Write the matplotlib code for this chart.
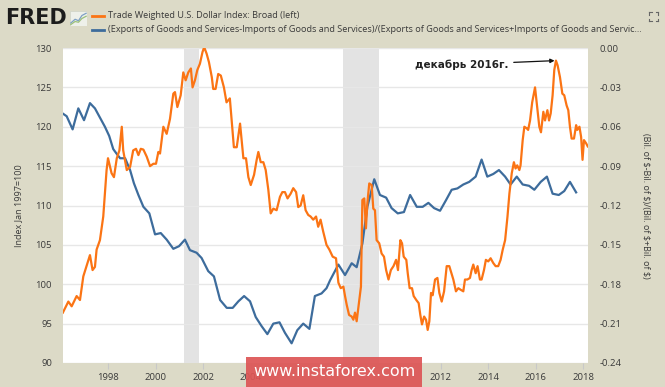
import matplotlib
matplotlib.use("Agg")
import matplotlib.pyplot as plt
from matplotlib.patches import Rectangle
from matplotlib.lines import Line2D

# ---------------- data ----------------
usd_t = [1996.1, 1996.33, 1996.47, 1996.68, 1996.82, 1996.96, 1997.24, 1997.35, 1997.45, 1997.52,
         1997.66, 1997.8, 1997.94, 1998.0, 1998.15, 1998.25, 1998.37, 1998.48, 1998.58, 1998.64,
         1998.79, 1998.93, 1999.06, 1999.18, 1999.28, 1999.38, 1999.49, 1999.63, 1999.77, 1999.91,
         2000.02, 2000.12, 2000.19, 2000.33, 2000.47, 2000.61, 2000.75, 2000.82, 2000.92, 2001.06,
         2001.17, 2001.27, 2001.38, 2001.49, 2001.56, 2001.66, 2001.76, 2001.87, 2001.98, 2002.05,
         2002.15, 2002.25, 2002.37, 2002.43, 2002.53, 2002.64, 2002.75, 2002.88, 2002.99, 2003.13,
         2003.3, 2003.42, 2003.56, 2003.7, 2003.81, 2003.91, 2004.01, 2004.15, 2004.26, 2004.33,
         2004.43, 2004.54, 2004.64, 2004.75, 2004.85, 2004.96, 2005.1, 2005.24, 2005.34, 2005.45,
         2005.56, 2005.69, 2005.8, 2005.92, 2006.01, 2006.11, 2006.22, 2006.32, 2006.43, 2006.53,
         2006.64, 2006.76, 2006.85, 2006.95, 2007.06, 2007.2, 2007.32, 2007.46, 2007.6, 2007.7,
         2007.8, 2007.91, 2007.98, 2008.05, 2008.15, 2008.26, 2008.33, 2008.4, 2008.47, 2008.58,
         2008.65, 2008.71, 2008.79, 2008.86, 2008.92, 2009.0, 2009.1, 2009.17, 2009.24, 2009.31,
         2009.42, 2009.52, 2009.62, 2009.71, 2009.81, 2009.91, 2010.02, 2010.13, 2010.21, 2010.31,
         2010.38, 2010.45, 2010.56, 2010.62, 2010.7, 2010.8, 2010.87, 2010.98, 2011.08, 2011.15,
         2011.22, 2011.31, 2011.39, 2011.46, 2011.53, 2011.6, 2011.67, 2011.77, 2011.87, 2011.95,
         2012.05, 2012.15, 2012.26, 2012.37, 2012.54, 2012.65, 2012.75, 2012.85, 2012.96, 2013.03,
         2013.13, 2013.24, 2013.31, 2013.38, 2013.48, 2013.56, 2013.66, 2013.73, 2013.83, 2013.91,
         2014.01, 2014.11, 2014.22, 2014.32, 2014.43, 2014.53, 2014.62, 2014.72, 2014.82, 2014.9,
         2015.0, 2015.09, 2015.16, 2015.23, 2015.32, 2015.37, 2015.46, 2015.53, 2015.63, 2015.69,
         2015.77, 2015.86, 2015.98, 2016.07, 2016.16, 2016.23, 2016.33, 2016.4, 2016.5, 2016.57,
         2016.64, 2016.72, 2016.79, 2016.86, 2016.93, 2017.03, 2017.13, 2017.21, 2017.31, 2017.38,
         2017.45, 2017.52, 2017.62, 2017.71, 2017.76, 2017.85, 2017.92, 2017.98, 2018.04, 2018.13,
         2018.2]
usd_v = [96.4, 97.8, 97.2, 98.5, 98.0, 101.0, 103.7, 101.8, 102.2, 104.4,
         105.6, 108.6, 114.5, 116.0, 114.1, 113.6, 116.0, 117.0, 120.0, 117.0,
         114.5, 114.9, 117.0, 117.2, 116.4, 117.2, 117.1, 116.2, 115.0, 115.3,
         115.3, 116.8, 116.6, 120.0, 119.1, 121.0, 124.2, 124.4, 122.5, 124.0,
         126.9, 125.9, 126.9, 127.4, 125.0, 125.9, 127.2, 128.0, 129.5, 130.1,
         129.3, 128.2, 126.3, 124.8, 124.8, 126.7, 126.5, 125.0, 123.1, 123.6,
         117.4, 117.4, 120.4, 116.0, 116.0, 113.6, 112.6, 113.9, 115.8, 116.8,
         115.5, 115.5, 114.5, 112.0, 109.0, 109.6, 109.4, 111.1, 111.7, 111.7,
         110.9, 111.5, 112.2, 111.7, 109.8, 110.0, 111.3, 109.4, 108.8, 108.6,
         108.2, 108.6, 107.3, 108.2, 106.7, 105.0, 104.4, 103.5, 103.3, 100.2,
         99.5, 99.7, 98.5, 97.4, 96.1, 95.9, 95.5, 96.4, 95.3, 98.0,
         99.7, 110.7, 110.9, 107.1, 110.3, 112.8, 112.6, 109.6, 109.4, 105.6,
         105.2, 103.9, 103.5, 101.8, 100.6, 101.8, 102.3, 103.1, 101.8, 105.6,
         105.2, 103.5, 103.1, 101.4, 99.5, 99.5, 98.5, 98.0, 97.6, 96.1,
         94.9, 95.9, 95.5, 94.2, 95.3, 98.9, 98.6, 100.6, 100.8, 98.9,
         97.8, 99.1, 102.3, 102.3, 100.6, 99.1, 99.5, 99.3, 99.1, 100.6,
         100.6, 100.8, 101.8, 102.5, 101.4, 102.3, 100.6, 100.6, 101.8, 103.1,
         102.9, 103.3, 102.7, 102.3, 102.3, 103.1, 104.4, 105.6, 108.6, 111.5,
         114.1, 115.5, 114.7, 115.1, 114.5, 115.1, 118.3, 120.0, 119.8, 119.6,
         120.8, 123.1, 125.0, 122.5, 120.0, 119.3, 121.9, 120.8, 122.1, 120.8,
         121.7, 124.0, 127.2, 128.4, 127.8, 126.3, 124.2, 124.0, 122.7, 122.1,
         120.0, 118.5, 118.5, 120.2, 119.6, 120.0, 118.7, 115.8, 118.3, 117.9,
         117.5]

ratio_t = [1996.1, 1996.26, 1996.51, 1996.75, 1996.99, 1997.24, 1997.45, 1997.66, 1997.87, 1998.05,
           1998.22, 1998.34, 1998.51, 1998.72, 1998.93, 1999.09, 1999.28, 1999.49, 1999.74, 1999.98,
           2000.22, 2000.47, 2000.75, 2000.99, 2001.24, 2001.45, 2001.73, 2001.94, 2002.22, 2002.46,
           2002.72, 2003.0, 2003.25, 2003.49, 2003.73, 2003.98, 2004.22, 2004.47, 2004.71, 2004.96,
           2005.22, 2005.45, 2005.73, 2005.97, 2006.22, 2006.48, 2006.71, 2006.99, 2007.2, 2007.35,
           2007.7, 2007.98, 2008.26, 2008.47, 2008.71, 2008.92, 2009.21, 2009.45, 2009.71, 2009.94,
           2010.2, 2010.46, 2010.72, 2011.0, 2011.25, 2011.49, 2011.73, 2011.98, 2012.23, 2012.47,
           2012.71, 2012.96, 2013.21, 2013.48, 2013.73, 2013.97, 2014.22, 2014.46, 2014.72, 2014.95,
           2015.21, 2015.46, 2015.73, 2015.95, 2016.22, 2016.48, 2016.72, 2016.98, 2017.21, 2017.45,
           2017.71]
ratio_v = [-0.050, -0.052, -0.062, -0.046, -0.055, -0.042, -0.046, -0.053, -0.060, -0.067,
           -0.077, -0.080, -0.084, -0.084, -0.093, -0.103, -0.112, -0.121, -0.126, -0.142,
           -0.141, -0.146, -0.153, -0.151, -0.146, -0.154, -0.156, -0.160, -0.170, -0.174,
           -0.192, -0.198, -0.198, -0.193, -0.189, -0.193, -0.205, -0.212, -0.218, -0.210,
           -0.209, -0.217, -0.225, -0.215, -0.210, -0.214, -0.189, -0.187, -0.183, -0.177,
           -0.165, -0.173, -0.164, -0.167, -0.149, -0.121, -0.100, -0.112, -0.114, -0.122,
           -0.126, -0.125, -0.112, -0.121, -0.121, -0.118, -0.122, -0.124, -0.116, -0.108,
           -0.107, -0.104, -0.102, -0.098, -0.085, -0.098, -0.096, -0.093, -0.098, -0.104,
           -0.098, -0.104, -0.105, -0.108, -0.102, -0.098, -0.111, -0.112, -0.109, -0.102,
           -0.110]

recessions = [(2001.2, 2001.83), (2007.9, 2009.4)]
x_ticks = [1998, 2000, 2002, 2004, 2006, 2008, 2010, 2012, 2014, 2016, 2018]
# labels of 2006-2010 sit fully under the watermark box in the reference
x_labels = ["1998", "2000", "2002", "2004", "", "", "", "2012", "2014", "2016", "2018"]
left_ticks = [90, 95, 100, 105, 110, 115, 120, 125, 130]
right_ticks = [-0.24, -0.21, -0.18, -0.15, -0.12, -0.09, -0.06, -0.03, 0.00]

series1_name = "Trade Weighted U.S. Dollar Index: Broad (left)"
series2_name = ("(Exports of Goods and Services-Imports of Goods and Services)/"
                "(Exports of Goods and Services+Imports of Goods and Servic...")
left_label = "Index Jan 1997=100"
right_label = "(Bil. of \\$-Bil. of \\$)/(Bil. of \\$+Bil. of \\$)"
annot_text = "декабрь 2016г."
annot_point = (2016.86, 128.4)
watermark = "www.instaforex.com"

# ---------------- style ----------------
BG = "#dcdac7"
ORANGE = "#fb7414"
BLUE = "#3d6c9c"
TXT = "#3a3a3a"
W, H = 665, 387

plt.rcParams['font.family'] = ['Open Sans', 'DejaVu Sans']

fig = plt.figure(figsize=(W / 100, H / 100), dpi=100)
fig.patch.set_facecolor(BG)

L, R, T, B = 63, 588, 48, 363
ax = fig.add_axes([L / W, 1 - B / H, (R - L) / W, (B - T) / H])
ax.set_xlim(1996.105, 2018.21)
ax.set_ylim(90, 130)
for s in ax.spines.values():
    s.set_visible(False)

ax2 = ax.twinx()
for s in ax2.spines.values():
    s.set_visible(False)
ax2.set_ylim(-0.24, 0.0)

# stacking: ax2 (white background, shading, grid, blue line) below ax (orange)
ax.set_zorder(2)
ax2.set_zorder(1)
ax.patch.set_visible(False)
ax2.patch.set_visible(True)
ax2.patch.set_facecolor("white")

for a, b in recessions:
    ax2.axvspan(a, b, color="#e3e3e3", lw=0, zorder=0.5)

ax.set_yticks(left_ticks)
ax.set_yticklabels([str(v) for v in left_ticks])
ax.tick_params(axis="y", length=0, pad=8, labelsize=6.8, labelcolor=TXT)
ax.set_xticks(x_ticks)
ax.set_xticklabels(x_labels)
ax.tick_params(axis="x", length=4, width=0.8, color="#c8c8c8", pad=3,
               labelsize=6.8, labelcolor=TXT)
ax.set_ylabel(left_label, fontsize=6.5, color=TXT, labelpad=9)

ax2.set_yticks(right_ticks)
ax2.set_yticklabels([f"{v:.2f}" for v in right_ticks])
ax2.yaxis.grid(True, color="#e7e7e7", lw=1.0)
ax2.set_axisbelow(True)
ax2.tick_params(axis="y", length=0, pad=8.5, labelsize=6.8, labelcolor=TXT)
ax2.set_ylabel(right_label, fontsize=6.5, color=TXT, rotation=270, labelpad=20)

ax2.plot(ratio_t, ratio_v, color=BLUE, lw=1.6, solid_joinstyle="round", zorder=3)
ax.plot(usd_t, usd_v, color=ORANGE, lw=1.6, solid_joinstyle="round", zorder=4)

ax.annotate(annot_text, xy=annot_point, xytext=(2014.85, 127.9),
            fontsize=7.5, fontweight="bold", color="#222222",
            family=["DejaVu Sans"], ha="right", va="center",
            arrowprops=dict(arrowstyle="-|>", color="#111111", lw=0.9,
                            mutation_scale=6, shrinkA=2, shrinkB=1))

# ---------------- header ----------------
fig.text(5 / W, 1 - 18 / H, "FRED", fontsize=15, fontweight="bold",
         color="#1c1c1c", family=["DejaVu Sans"], va="center", ha="left")
icon = fig.add_axes([70 / W, 1 - 26 / H, 17 / W, 15 / H])
icon.set_xlim(0, 1); icon.set_ylim(0, 1); icon.axis("off")
icon.add_patch(Rectangle((0, 0), 1, 1, facecolor="#eef0ea", edgecolor="#cfd3c8", lw=0.5))
icon.plot([0.05, 0.3, 0.5, 0.7, 0.95], [0.2, 0.45, 0.35, 0.7, 0.85], color="#7ea0c4", lw=0.9)
icon.plot([0.05, 0.3, 0.5, 0.7, 0.95], [0.1, 0.3, 0.25, 0.5, 0.65], color="#9cc07a", lw=0.9)

fig.add_artist(Line2D([92 / W, 104 / W], [1 - 16 / H, 1 - 16 / H], color=ORANGE, lw=2))
fig.add_artist(Line2D([92 / W, 104 / W], [1 - 30 / H, 1 - 30 / H], color=BLUE, lw=2))
fig.text(108 / W, 1 - 16 / H, series1_name, fontsize=6.6, color=TXT, va="center")
fig.text(108 / W, 1 - 30 / H, series2_name, fontsize=6.6, color=TXT, va="center")

# full-screen icon
for (cx, cy, dx, dy) in [(649, 12, 1, 1), (658, 12, -1, 1), (649, 21, 1, -1), (658, 21, -1, -1)]:
    fig.add_artist(Line2D([cx / W, cx / W], [1 - cy / H, 1 - (cy + 2.5 * dy) / H], color="#666", lw=0.8))
    fig.add_artist(Line2D([cx / W, (cx + 2.5 * dx) / W], [1 - cy / H, 1 - cy / H], color="#666", lw=0.8))

# ---------------- watermark ----------------
fig.add_artist(Rectangle((246 / W, 0), (422 - 246) / W, (H - 356.5) / H,
                         transform=fig.transFigure, facecolor="#dd5555",
                         edgecolor="none", alpha=0.92, zorder=10))
fig.text((246 + 422) / 2 / W, 1 - 372 / H, watermark, fontsize=11.5, color="white",
         ha="center", va="center", family=["DejaVu Sans"], zorder=11)

fig.savefig("out.png", dpi=100, facecolor=BG)
